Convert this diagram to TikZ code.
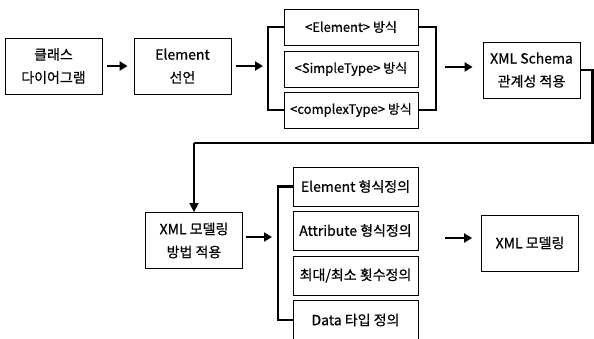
\documentclass[tikz,border=0pt]{standalone}
\usepackage{fontspec}
\setmainfont{Noto Sans CJK KR}
\newfontfamily\boxfont{Noto Sans CJK KR}[FakeBold=0.6]
\usetikzlibrary{arrows.meta}
\begin{document}
\begin{tikzpicture}[x=1pt,y=-1pt,
  box/.style={draw,line width=0.8pt,inner sep=0pt,align=center,font=\boxfont\fontsize{14}{23}\selectfont},
  stepbox/.style={box,minimum width=97pt,minimum height=56pt},
  waybox/.style={box,minimum width=134pt,minimum height=36pt,font=\boxfont\fontsize{13}{20}\selectfont},
  formbox/.style={box,minimum width=125pt,minimum height=39pt},
  go/.style={-{Triangle[length=8pt,width=9pt]},line width=2.6pt},
  bar/.style={line width=2.6pt}]
\useasboundingbox (0,0) rectangle (594,338);
% first row
\node[stepbox] (cls) at (53.5,66) {클래스\\다이어그램};
\node[stepbox] (elem) at (182.5,66) {Element\\선언};
\node[waybox] (m1) at (351,27) {<Element> 방식};
\node[waybox] (m2) at (351,69) {<SimpleType> 방식};
\node[waybox] (m3) at (351,110) {<complexType> 방식};
\node[stepbox] (schema) at (531.5,70) {XML Schema\\관계성 적용};
\coordinate (lb) at (268,69);
\coordinate (rb) at (436,67);
\draw[go,shorten <=5pt,shorten >=6pt] (cls) -- (elem);
\draw[go,shorten <=5pt,shorten >=5pt] (elem.east) -- (elem.east -| lb);
\draw[bar] (m1.west) -| (lb) |- (m3.west);
\draw[bar] (m1.east) -| (rb) |- (m3.east);
\draw[go,shorten <=9pt,shorten >=10pt] (rb) -- (rb -| schema.west);
% turn down
\coordinate (turn) at (592.5,143);
\coordinate (drop) at (194,143);
\draw[bar] (schema.east) -| (turn) -- (drop);
% second row
\node[stepbox] (model) at (194,240.5) {XML 모델링\\방법 적용};
\node[formbox] (n1) at (355.5,186.5) {Element 형식정의};
\node[formbox] (n2) at (355.5,230.5) {Attribute 형식정의};
\node[formbox] (n3) at (355.5,275.5) {최대/최소 횟수정의};
\node[formbox,minimum height=40pt] (n4) at (355.5,320) {Data 타입 정의};
\node[stepbox] (result) at (530,243) {XML 모델링};
\coordinate (lb2) at (278,237);
\coordinate (rb2) at (436,238);
\draw[-{Triangle[length=9pt,width=9pt]},line width=1.6pt] (drop) -- (model);
\draw[go,shorten <=3pt,shorten >=6pt] (model.east |- lb2) -- (lb2);
\draw[bar] (n1.west) -| (lb2) |- (n4.west);
\draw[go,shorten <=9pt,shorten >=9pt] (rb2) -- (rb2 -| result.west);
\end{tikzpicture}
\end{document}
